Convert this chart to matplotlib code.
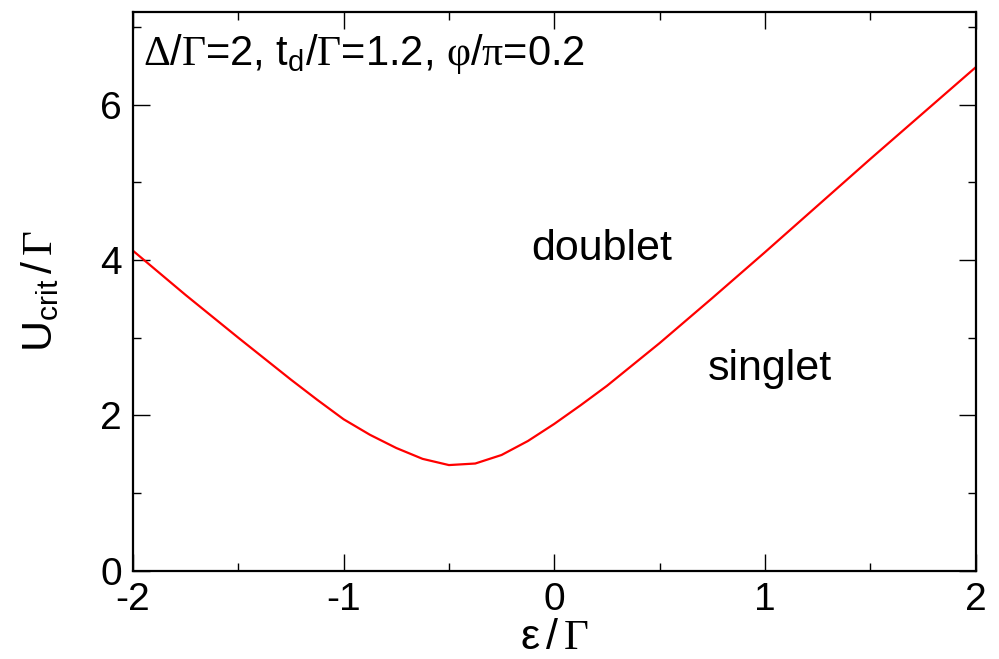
import matplotlib
matplotlib.use('Agg')
import matplotlib.pyplot as plt
from matplotlib.ticker import MultipleLocator

matplotlib.rcParams.update({'font.family': 'Liberation Sans',
                            'mathtext.fontset': 'custom',
                            'mathtext.rm': 'Liberation Sans',
                            'mathtext.it': 'Liberation Sans',
                            'mathtext.sf': 'Liberation Serif',
                            'axes.unicode_minus': False})

# critical U
eps = [-2.0, -1.75, -1.5, -1.25, -1.125, -1.0, -0.875, -0.75, -0.625, -0.5,
       -0.375, -0.25, -0.125, 0.0, 0.125, 0.25, 0.5, 0.75, 1.0, 1.25,
       1.5, 1.75, 2.0]
ucrit = [4.12, 3.55, 3.00, 2.46, 2.20, 1.95, 1.75, 1.58, 1.44, 1.36,
         1.38, 1.49, 1.67, 1.89, 2.13, 2.38, 2.93, 3.51, 4.10, 4.70,
         5.30, 5.89, 6.48]

fig = plt.figure(figsize=(9.99, 6.59), dpi=100)
ax = fig.add_axes([0.1331, 0.134, 0.8434, 0.8485])

ax.plot(eps, ucrit, '-', color='#ff0000', linewidth=1.6)

ax.set_xlim([-2, 2])
ax.set_ylim([0, 7.2])
ax.xaxis.set_major_locator(MultipleLocator(1))
ax.xaxis.set_minor_locator(MultipleLocator(0.5))
ax.yaxis.set_major_locator(MultipleLocator(2))
ax.yaxis.set_minor_locator(MultipleLocator(1))
ax.tick_params(which='both', direction='in', top=True, right=True, labelsize=28, pad=8)
ax.tick_params(which='major', length=12, width=1)
ax.tick_params(which='minor', length=6, width=1)
for s in ax.spines.values():
    s.set_linewidth(1.6)

ax.set_xlabel(r'$\varepsilon\,$/$\,\mathsf{Γ}$', fontsize=31, labelpad=0)
ax.set_ylabel(r'U$_{\rm crit}\,$/$\,\mathsf{Γ}$', fontsize=31, labelpad=28)

ax.text(0.012, 0.905, r'$\mathsf{Δ}$/$\mathsf{Γ}$=2, t$_{\rm d}$/$\mathsf{Γ}$=1.2, $\mathsf{φ}$/$\mathsf{π}$=0.2',
        transform=ax.transAxes, fontsize=30)
ax.text(-0.11, 4.0, 'doublet', fontsize=31)
ax.text(0.73, 2.46, 'singlet', fontsize=31)

plt.savefig('out.png', dpi=100)
